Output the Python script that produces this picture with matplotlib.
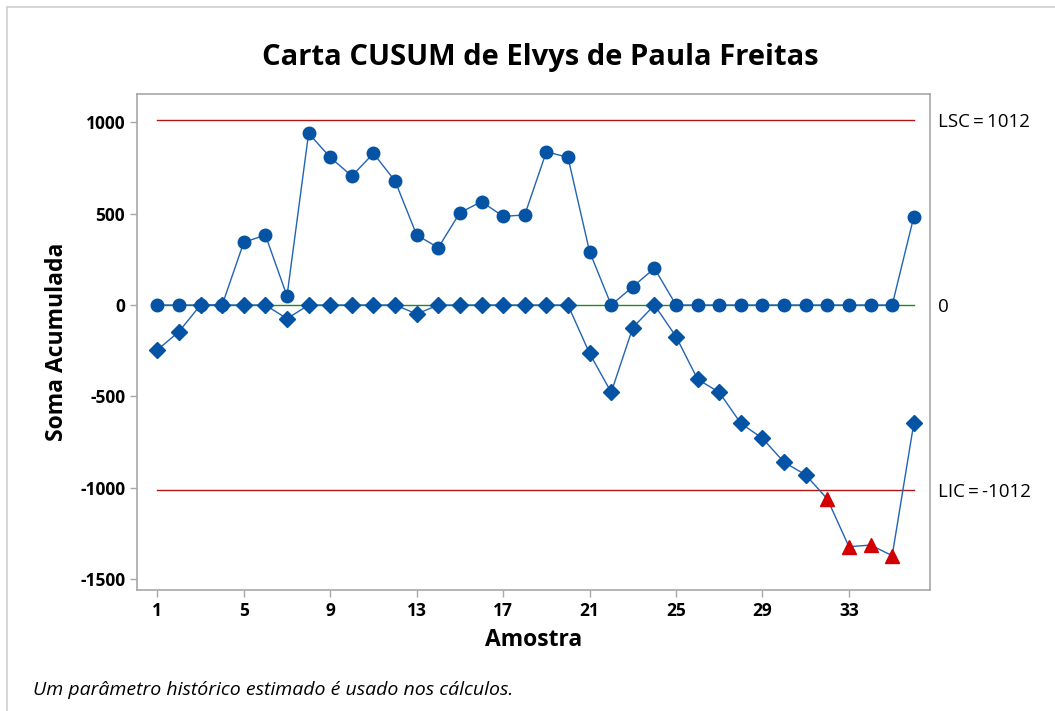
import matplotlib
matplotlib.use("Agg")
import matplotlib.pyplot as plt
from matplotlib.lines import Line2D
import numpy as np

plt.rcParams['font.family'] = ['Open Sans', 'DejaVu Sans']
plt.rcParams['axes.unicode_minus'] = False

samples = list(range(1, 37))
upper = [0, 0, 0, 0, 343, 383, 49, 940, 808, 706, 830, 679, 383, 314, 505, 566,
         485, 493, 839, 808, 292, 0, 100, 201, 0, 0, 0, 0, 0, 0, 0, 0, 0, 0, 0, 483]
lower = [-246, -146, 0, 0, 0, 0, -75, 0, 0, 0, 0, 0, -49, 0, 0, 0, 0, 0, 0, 0,
         -265, -478, -124, 0, -173, -407, -478, -648, -730, -861, -930, -1062,
         -1323, -1314, -1372, -648]
ucl = 1012
lcl = -1012
center = 0
xticks = [1, 5, 9, 13, 17, 21, 25, 29, 33]
yticks = [-1500, -1000, -500, 0, 500, 1000]
title = "Carta CUSUM de Elvys de Paula Freitas"
xlabel = "Amostra"
ylabel = "Soma Acumulada"
note = "Um parâmetro histórico estimado é usado nos cálculos."

blue = '#0453a4'
lineblue = '#2163b5'
red = '#d20000'
limred = '#b01515'
green = '#1f8a1f'
grey = '#a8a8a8'

fig = plt.figure(figsize=(10.55, 7.11), dpi=100)
ax = fig.add_axes([137/1055, 1-590/711, (930-137)/1055, (590-94)/711])

x = np.array(samples)
up = np.array(upper)
lo = np.array(lower)

ax.plot([x[0], x[-1]], [ucl, ucl], color=limred, lw=1.0, zorder=1)
ax.plot([x[0], x[-1]], [lcl, lcl], color=limred, lw=1.0, zorder=1)
ax.plot([x[0], x[-1]], [center, center], color=green, lw=1.0, zorder=1)

ax.plot(x, up, color=lineblue, lw=1.0, marker='o', ms=9, mfc=blue, mec=blue, zorder=3)
ax.plot(x, lo, color=lineblue, lw=1.0, zorder=4)
ooc = lo < lcl
ax.plot(x[~ooc], lo[~ooc], ls='none', marker='D', ms=8.5, mfc=blue, mec=blue, zorder=5)
ax.plot(x[ooc], lo[ooc], ls='none', marker='^', ms=10.5, mfc=red, mec=red, zorder=5)

ax.set_xlim(0.06, 36.75)
ax.set_ylim(-1560, 1155)
ax.set_xticks(xticks)
ax.set_yticks(yticks)
for s in ax.spines.values():
    s.set_color(grey)
    s.set_linewidth(1.2)
ax.tick_params(axis='both', colors=grey, length=5, width=1, labelcolor='black',
               labelsize=12.5)
for lab in ax.get_xticklabels() + ax.get_yticklabels():
    lab.set_fontweight('bold')
ax.set_xlabel(xlabel, fontsize=16.5, fontweight='bold', labelpad=6)
ax.set_ylabel(ylabel, fontsize=16.5, fontweight='bold', labelpad=8)

tr = ax.get_yaxis_transform()
ax.text(1.01, ucl, f"LSC\u2009=\u2009{ucl}", transform=tr, va='center_baseline',
        ha='left', fontsize=13.5)
ax.text(1.01, center, f"{center}", transform=tr, va='center_baseline',
        ha='left', fontsize=13.5)
ax.text(1.01, lcl, f"LIC\u2009=\u2009{lcl}", transform=tr, va='center_baseline',
        ha='left', fontsize=13.5)

fig.text(540/1055, 1-58/711, title, ha='center', va='center', fontsize=21,
         fontweight='bold')
fig.text(33/1055, 1-690/711, note, ha='left', va='center', fontsize=14,
         style='italic')

# figure border (left and top)
fig.add_artist(Line2D([7/1055, 7/1055], [0, 1-7/711], transform=fig.transFigure,
                      color='#d0d0d0', lw=1.2))
fig.add_artist(Line2D([7/1055, 1], [1-7/711, 1-7/711], transform=fig.transFigure,
                      color='#d0d0d0', lw=1.2))

fig.savefig('out.png', dpi=100)
